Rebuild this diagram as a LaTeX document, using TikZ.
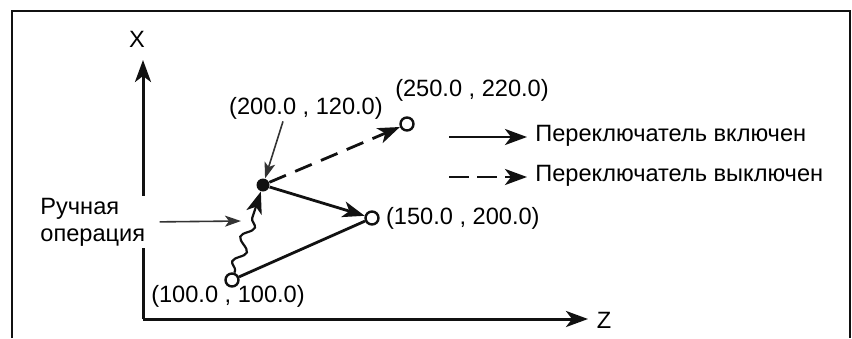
\documentclass[tikz,border=0pt]{standalone}
\usepackage{fontspec}
\setmainfont{Liberation Sans}
\usetikzlibrary{arrows.meta,positioning,decorations.pathmorphing}
\definecolor{JogInk}{HTML}{111111}
\definecolor{JogGrey}{HTML}{333333}
\tikzset{
  jogpoint/.style={
    circle,
    draw=JogInk,
    fill=white,
    line width=1.2pt,
    minimum size=6.5pt,
    inner sep=0pt
  },
  jogdot/.style={
    circle,
    fill=JogInk,
    minimum size=6.5pt,
    inner sep=0pt
  },
  joglabel/.style={inner sep=1pt,font=\fontsize{11.8}{13.5}\selectfont},
  jogarrow/.style={-{Stealth[length=11pt,width=8pt,inset=3pt]},line width=1.4pt,draw=JogInk},
  jogthin/.style={-{Stealth[length=8pt,width=5.5pt,inset=2pt]},line width=0.8pt,draw=JogGrey}
}
\begin{document}
\begin{tikzpicture}[x=0.5pt,y=-0.5pt]
  \useasboundingbox (0,0) rectangle (852,338);
  % frame
  \draw[line width=1.3pt,draw=JogInk] (12,338) -- (12,11) -- (850,11) -- (850,338);
  % axes
  \coordinate (orig) at (143,319);
  \coordinate (xend) at (143,60);
  \coordinate (zend) at (588,319);
  \draw[jogarrow,line width=1.5pt] (orig) -- (xend);
  \draw[jogarrow,line width=1.5pt] (orig) -- (zend);
  \node[joglabel] (xlab) at (137,39) {X};
  \node[joglabel] (zlab) at (604,320) {Z};
  % points
  \node[jogpoint] (p100) at (232,280) {};
  \node[jogpoint] (p150) at (372,218) {};
  \node[jogpoint] (p250) at (407,124) {};
  \node[jogdot] (p200) at (263,185) {};
  \node[joglabel,right=2pt of p150] (l150) {(150.0 , 200.0)};
  \node[joglabel] (l250) at (472,90) {(250.0 , 220.0)};
  \node[joglabel] (l200) at (306,108) {(200.0 , 120.0)};
  \node[joglabel] (l100) at (228,296) {(100.0 , 100.0)};
  % paths
  \draw[line width=1.4pt,draw=JogInk] (p100) -- (p150);
  \draw[jogarrow] (p200) -- (p150);
  \draw[jogarrow,dash pattern=on 9pt off 5pt] (p200) -- (p250);
  \draw[jogarrow,line width=1.1pt,decorate,decoration={snake,amplitude=2.8pt,segment length=13pt,pre length=1pt,post length=8pt}] (p100) -- (p200);
  \draw[jogthin] ([xshift=-11.5pt]l200.south) -- (p200);
  % manual operation
  \node[joglabel,fill=white,align=left,anchor=west] (manual) at (38,222) {Ручная\\операция};
  \coordinate (wavy) at (241,221);
  \draw[jogthin,shorten <=6pt] (manual.east) -- (wavy);
  % legend
  \coordinate (onA) at (449,137);
  \coordinate (onB) at (527,137);
  \coordinate (offA) at (449,177);
  \coordinate (offB) at (527,177);
  \draw[jogarrow] (onA) -- (onB);
  \draw[jogarrow,dash pattern=on 10pt off 4pt] (offA) -- (offB);
  \node[joglabel,anchor=west] (onlab) at (533,136) {Переключатель включен};
  \node[joglabel,anchor=west] (offlab) at (533,176) {Переключатель выключен};
\end{tikzpicture}
\end{document}
